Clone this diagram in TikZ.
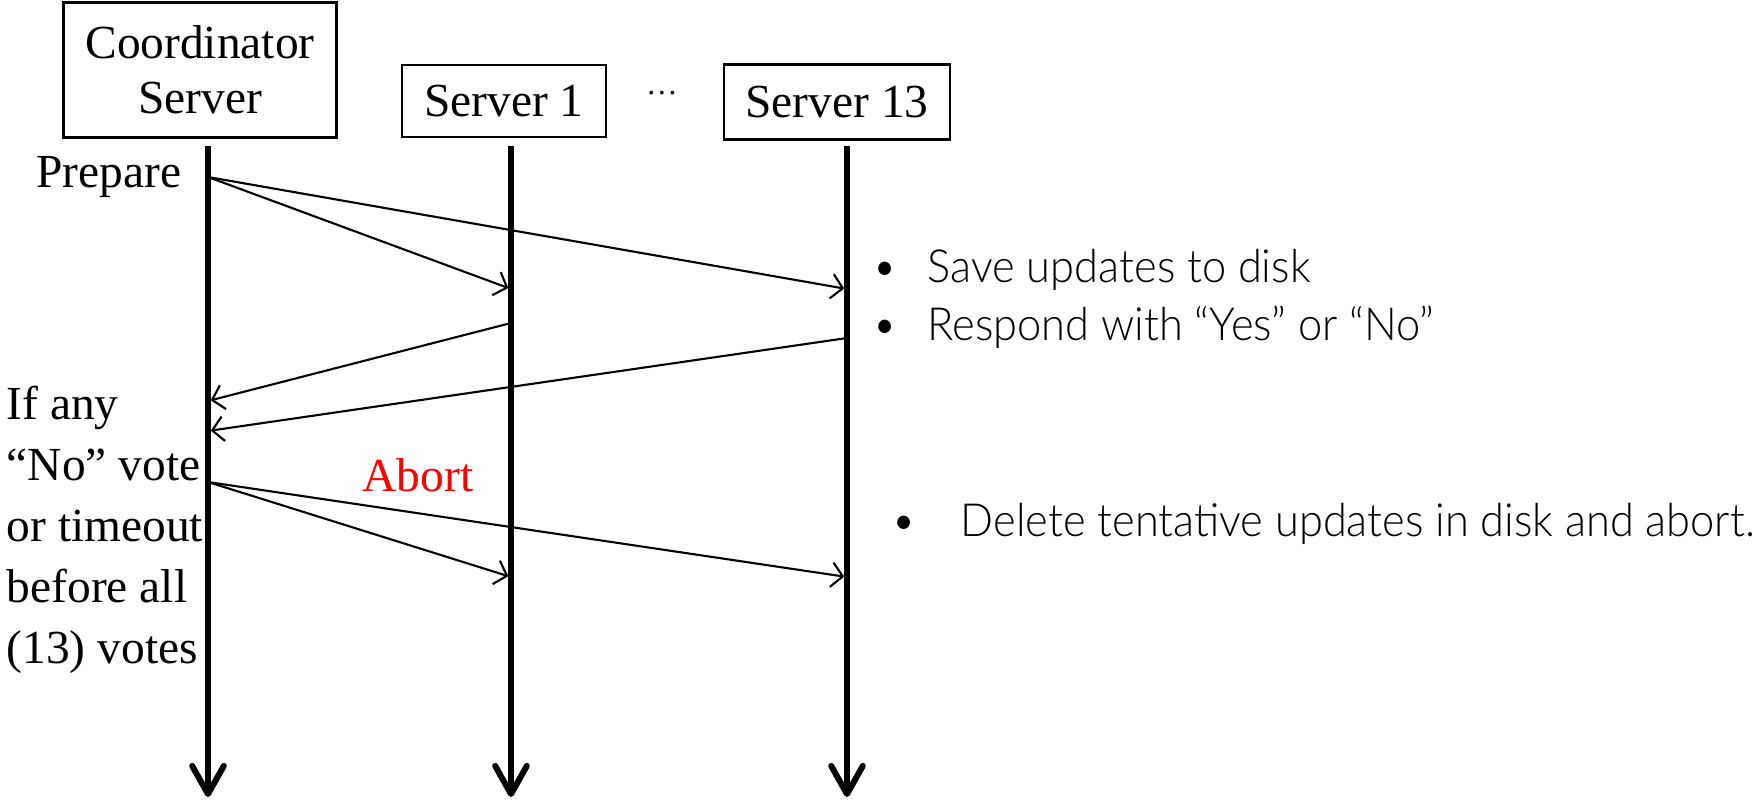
\documentclass[tikz,border=0pt]{standalone}
\usepackage{fontspec}
\setmainfont{Liberation Serif}
\newfontfamily\gill[FakeStretch=0.95]{Lato Light}
\usetikzlibrary{arrows.meta}
\begin{document}
\begin{tikzpicture}[x=0.1mm,y=-0.1mm,
  box/.style={draw, line width=0.6pt, font=\fontsize{13.5}{15.5}\selectfont, align=center, inner sep=0pt},
  life/.style={line width=1.7pt, -{Straight Barb[length=8pt,width=9pt,round]}},
  msg/.style={line width=0.6pt, -{Straight Barb[length=3.2pt,width=7pt]}, shorten >=0.8pt, shorten <=0.8pt},
  tm/.style={font=\fontsize{13.5}{17.4}\selectfont, inner sep=0pt},
  gs/.style={font=\gill\fontsize{13}{15}\selectfont, inner sep=0pt, anchor=west}
]
\useasboundingbox (0,0) rectangle (1760,801);
% participants
\node[box, minimum width=27.3mm, minimum height=13.5mm] (coord) at (200,70) {Coordinator\\Server};
\node[box, minimum width=20.4mm, minimum height=7.2mm] (srv1) at (504,101) {Server 1};
\node[box, minimum width=22.6mm, minimum height=7.5mm] (srv13) at (837,102) {Server 13};
\node[font=\fontsize{9}{10}\selectfont, inner sep=0pt] (dots) at (662,93) {\ldots};
% lifelines
\coordinate (ct) at (208,146); \coordinate (cb) at (208,797);
\coordinate (s1t) at (511,146); \coordinate (s1b) at (511,797);
\coordinate (s13t) at (847,146); \coordinate (s13b) at (847,797);
\draw[life] (ct) -- (cb);
\draw[life] (s1t) -- (s1b);
\draw[life] (s13t) -- (s13b);
% event points
\coordinate (p0) at (208,177);
\coordinate (p1) at (511,289);
\coordinate (p13) at (847,289);
\coordinate (r1) at (511,323);
\coordinate (ra) at (208,401);
\coordinate (r13) at (847,338);
\coordinate (rb) at (208,431);
\coordinate (a0) at (208,482);
\coordinate (a1) at (511,577);
\coordinate (a13) at (847,577);
% messages
\draw[msg] (p0) -- (p1);
\draw[msg] (p0) -- (p13);
\draw[msg] (r1) -- (ra);
\draw[msg] (r13) -- (rb);
\draw[msg] (a0) -- (a1);
\draw[msg] (a0) -- (a13);
% labels
\node[tm, anchor=east] (prep) at (182,177) {Prepare};
\node[tm, anchor=west, align=left] (cond) at (6,530) {If any\\“No” vote\\or timeout\\before all\\(13) votes};
\node[tm, text=red] (abort) at (418,475) {Abort};
\node[gs] (b1) at (872,270) {\makebox[5.5mm][l]{•}Save updates to disk};
\node[gs] (b2) at (872,327) {\makebox[5.5mm][l]{•}Respond with “Yes” or “No”};
\node[gs] (b3) at (891,524) {\makebox[6.9mm][l]{•}Delete tentative updates in disk and abort.};
\end{tikzpicture}
\end{document}
